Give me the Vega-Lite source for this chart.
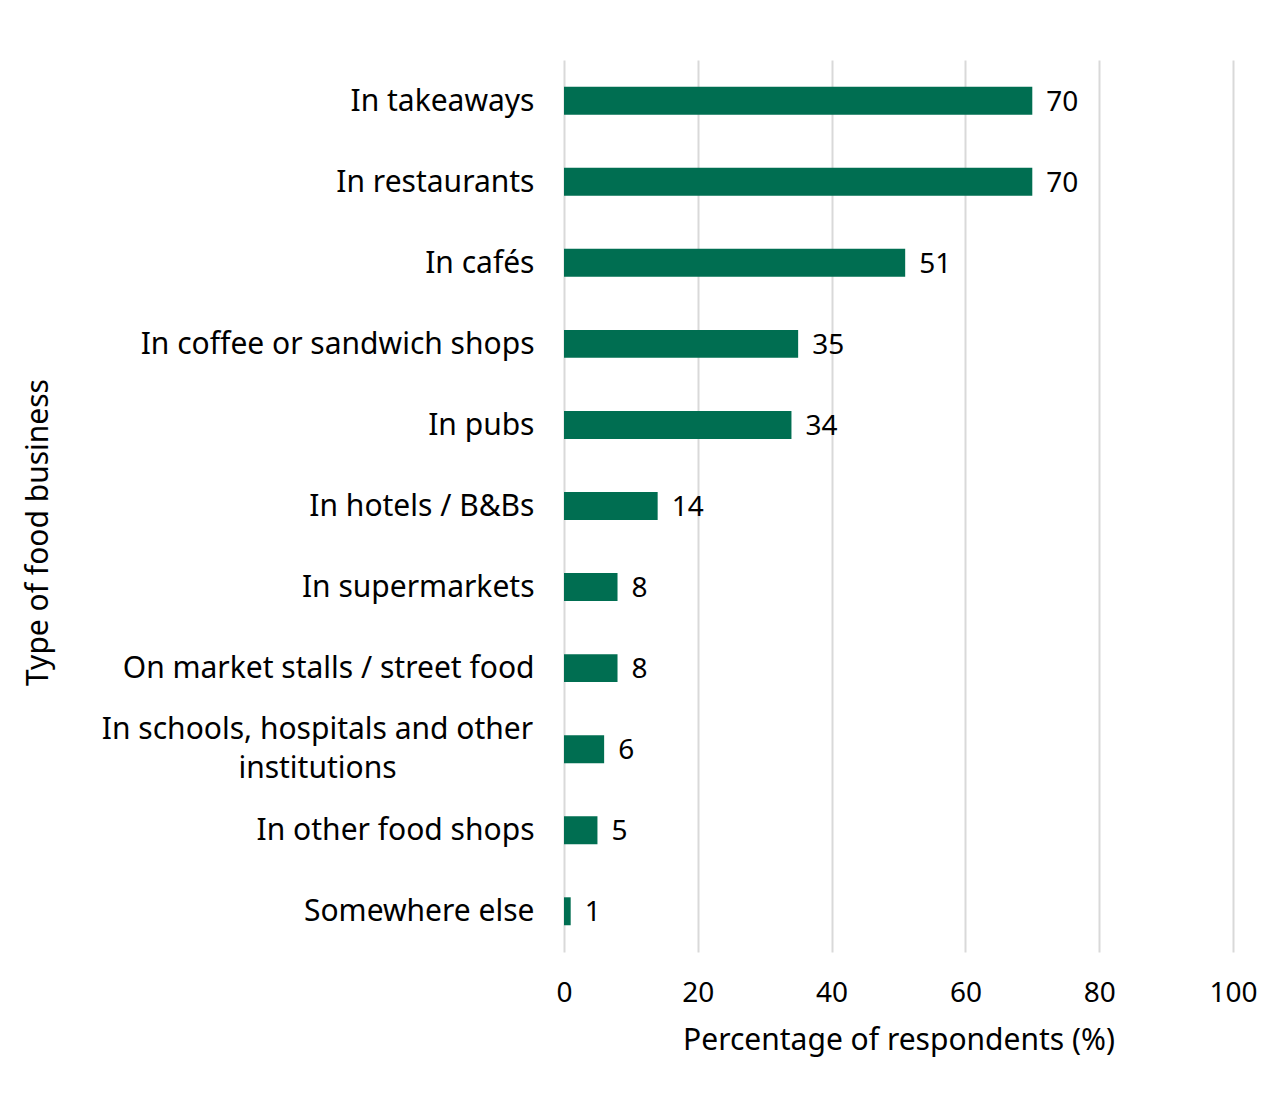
{
  "$schema": "https://vega.github.io/schema/vega-lite/v6.json",
  "autosize": {"type": "none"},
  "padding": {"left": 564, "top": 60, "right": 41, "bottom": 150},
  "width": 669,
  "height": 892,
  "background": "white",
  "config": {
    "view": {"stroke": null},
    "font": "Noto Sans"
  },
  "data": {
    "values": [
      {"type": "In takeaways", "pct": 70},
      {"type": "In restaurants", "pct": 70},
      {"type": "In cafés", "pct": 51},
      {"type": "In coffee or sandwich shops", "pct": 35},
      {"type": "In pubs", "pct": 34},
      {"type": "In hotels / B&Bs", "pct": 14},
      {"type": "In supermarkets", "pct": 8},
      {"type": "On market stalls / street food", "pct": 8},
      {"type": "In schools, hospitals and other institutions", "pct": 6},
      {"type": "In other food shops", "pct": 5},
      {"type": "Somewhere else", "pct": 1}
    ]
  },
  "encoding": {
    "y": {
      "field": "type",
      "type": "nominal",
      "sort": null,
      "scale": {"paddingInner": 0.655, "paddingOuter": 0.33},
      "axis": {
        "title": "Type of food business",
        "titleFontSize": 30,
        "titleFontWeight": "normal",
        "titleColor": "#000000",
        "titleX": -526,
        "titleY": 472,
        "titleBaseline": "middle",
        "labelFontSize": 30,
        "labelColor": "#000000",
        "labelPadding": {"condition": {"test": "datum.value == 'In schools, hospitals and other institutions'", "value": 247}, "value": 30},
        "labelAlign": {"condition": {"test": "datum.value == 'In schools, hospitals and other institutions'", "value": "center"}, "value": "right"},
        "labelOffset": {"condition": {"test": "datum.value == 'In schools, hospitals and other institutions'", "value": -19}, "value": 1},
        "labelLineHeight": 39,
        "labelLimit": 600,
        "labelOverlap": false,
        "ticks": false,
        "domain": false,
        "labelExpr": "datum.label == 'In schools, hospitals and other institutions' ? ['In schools, hospitals and other', 'institutions'] : datum.label"
      }
    },
    "x": {
      "field": "pct",
      "type": "quantitative",
      "scale": {"domain": [0, 100]},
      "axis": {
        "title": "Percentage of respondents (%)",
        "titleFontSize": 30,
        "titleFontWeight": "normal",
        "titleColor": "#000000",
        "titlePadding": 18,
        "labelFontSize": 28,
        "labelColor": "#000000",
        "labelPadding": 27,
        "labelOverlap": false,
        "labelFlush": false,
        "values": [0, 20, 40, 60, 80, 100],
        "ticks": false,
        "domain": false,
        "grid": true,
        "gridColor": "#d9d9d9",
        "gridWidth": 2
      }
    }
  },
  "layer": [
    {"mark": {"type": "bar", "color": "#006e51"}},
    {
      "mark": {"type": "text", "align": "left", "dx": 14, "dy": 2, "fontSize": 28, "color": "#000000", "baseline": "middle"},
      "encoding": {"text": {"field": "pct", "type": "quantitative"}}
    }
  ]
}
